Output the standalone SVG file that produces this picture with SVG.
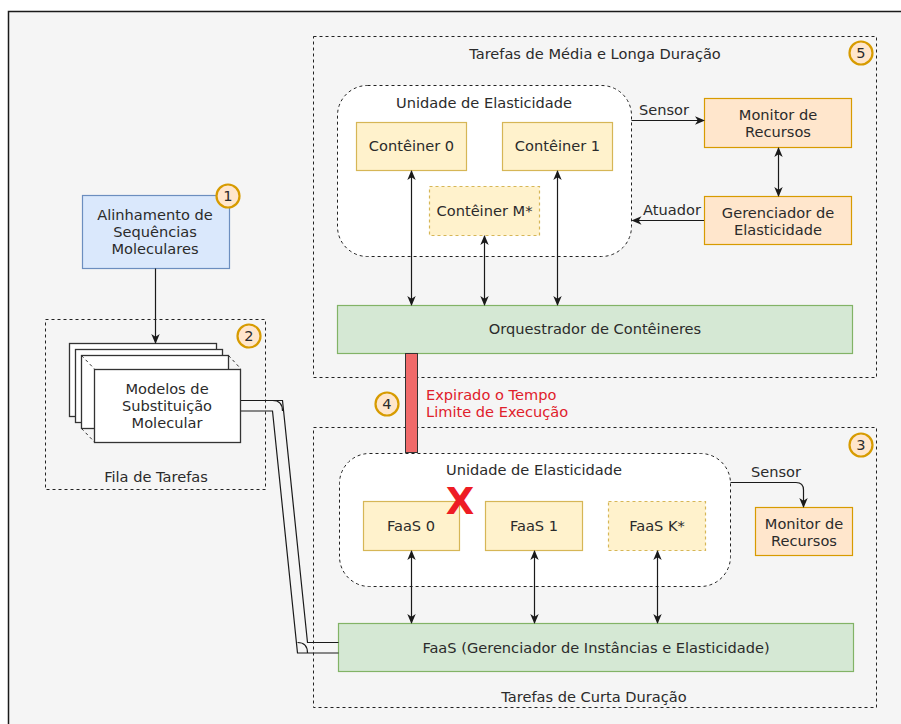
<svg xmlns="http://www.w3.org/2000/svg" width="901" height="724" viewBox="0 0 901 724">
<defs>
<marker id="ah" viewBox="0 0 10 10" refX="9" refY="5" markerWidth="10" markerHeight="10" markerUnits="userSpaceOnUse" orient="auto-start-reverse">
<path d="M0,0.8 L10,5 L0,9.2 L2.8,5 z" fill="#1a1a1a"/>
</marker>
<style>
text{font-family:"DejaVu Sans",Verdana,sans-serif;font-size:14.6px;fill:#2b2b2b;text-anchor:middle}
.grp{fill:none;stroke:#222;stroke-width:1;stroke-dasharray:3 3}
.unit{fill:#fff;stroke:#222;stroke-width:1;stroke-dasharray:3 3}
.yel{fill:#fff2cc;stroke:#d6b656;stroke-width:1.2}
.yeld{fill:#fff2cc;stroke:#d6b656;stroke-width:1.2;stroke-dasharray:3 3}
.org{fill:#ffe6cc;stroke:#d79b00;stroke-width:1.2}
.grn{fill:#d5e8d4;stroke:#82b366;stroke-width:1.2}
.blu{fill:#dae8fc;stroke:#6c8ebf;stroke-width:1.2}
.badge{fill:#ffe6cc;stroke:#d79b00;stroke-width:2.2}
.sheet{fill:#fff;stroke:#333;stroke-width:1.3}
.ln{fill:none;stroke:#1a1a1a;stroke-width:1.2}
.arr{fill:none;stroke:#1a1a1a;stroke-width:1.2;marker-end:url(#ah)}
.arr2{fill:none;stroke:#1a1a1a;stroke-width:1.2;marker-end:url(#ah);marker-start:url(#ah)}
.red{fill:#e0202b;text-anchor:start}
</style>
</defs>
<rect x="8.5" y="11.5" width="900" height="720" fill="#f5f5f5" stroke="#1a1a1a" stroke-width="1.5"/>

<g id="grupo-media-longa">
<rect class="grp" x="313.5" y="36.5" width="563" height="341"/>
<text x="595" y="59">Tarefas de Média e Longa Duração</text>
</g>
<g id="grupo-curta">
<rect class="grp" x="313.5" y="427.5" width="563" height="280"/>
<text x="594" y="702">Tarefas de Curta Duração</text>
</g>
<g id="fila-tarefas">
<rect class="grp" x="45.5" y="319.5" width="220" height="170"/>
<text x="156" y="482">Fila de Tarefas</text>
</g>

<g id="unidade-elasticidade-1">
<rect class="unit" x="337.5" y="85.5" width="294" height="171" rx="30" ry="30"/>
<text x="484" y="108">Unidade de Elasticidade</text>
</g>
<g id="unidade-elasticidade-2">
<rect class="unit" x="339.5" y="453.5" width="391" height="133" rx="30" ry="30"/>
<text x="534" y="475">Unidade de Elasticidade</text>
</g>

<g id="alinhamento">
<rect class="blu" x="82.5" y="195.5" width="147" height="73"/>
<text x="155" y="220">Alinhamento de</text>
<text x="155" y="237">Sequências</text>
<text x="155" y="254">Moleculares</text>
</g>

<g id="modelos">
<rect class="sheet" x="69.5" y="343.5" width="147" height="73"/>
<rect class="sheet" x="75.5" y="349.5" width="147" height="73"/>
<rect class="sheet" x="81.5" y="355.5" width="147" height="73"/>
<path d="M81.5,355.5 L94.5,369 M228.5,355.5 L241,369 M81.5,428.5 L94.5,442" fill="none" stroke="#333" stroke-width="1" stroke-dasharray="3 3"/>
<rect class="sheet" x="94.5" y="369.5" width="146" height="73"/>
<text x="167" y="394">Modelos de</text>
<text x="167" y="411">Substituição</text>
<text x="167" y="428">Molecular</text>
</g>

<g id="conteiner-0"><rect class="yel" x="356.5" y="122.5" width="110" height="48"/><text x="411.5" y="151">Contêiner 0</text></g>
<g id="conteiner-1"><rect class="yel" x="502.5" y="122.5" width="110" height="48"/><text x="557.5" y="151">Contêiner 1</text></g>
<g id="conteiner-m"><rect class="yeld" x="429.5" y="186.5" width="110" height="49"/><text x="484.5" y="215.5">Contêiner M*</text></g>
<g id="monitor-1"><rect class="org" x="704.5" y="98.5" width="147" height="49"/><text x="778" y="120">Monitor de</text><text x="778" y="137">Recursos</text></g>
<g id="gerenciador"><rect class="org" x="704.5" y="196.5" width="147" height="48"/><text x="778" y="218">Gerenciador de</text><text x="778" y="235">Elasticidade</text></g>
<g id="orquestrador"><rect class="grn" x="337.5" y="305.5" width="515" height="48"/><text x="595" y="334">Orquestrador de Contêineres</text></g>

<g id="faas-0"><rect class="yel" x="363.5" y="501.5" width="96" height="49"/><text x="411" y="531">FaaS 0</text></g>
<g id="faas-1"><rect class="yel" x="485.5" y="501.5" width="97" height="49"/><text x="534" y="531">FaaS 1</text></g>
<g id="faas-k"><rect class="yeld" x="608.5" y="501.5" width="97" height="49"/><text x="657" y="531">FaaS K*</text></g>
<g id="monitor-2"><rect class="org" x="755.5" y="507.5" width="97" height="48"/><text x="804" y="529">Monitor de</text><text x="804" y="546">Recursos</text></g>
<g id="faas-gerenciador"><rect class="grn" x="338.5" y="623.5" width="515" height="48"/><text x="596" y="653">FaaS (Gerenciador de Instâncias e Elasticidade)</text></g>

<g id="falha-x"><text x="460" y="514" style="font-size:37px;font-weight:bold;fill:#ee1c24">X</text></g>

<g id="conectores">
<path class="arr" d="M155.5,268.5 V343"/>
<path class="arr" d="M631.5,120.5 H704"/>
<path class="arr" d="M704,220.5 H632.5"/>
<path class="arr2" d="M778.5,148 V196"/>
<path class="arr2" d="M411.5,171 V305"/>
<path class="arr2" d="M484.5,236 V305"/>
<path class="arr2" d="M557.5,171 V305"/>
<path class="arr2" d="M411.5,551 V623"/>
<path class="arr2" d="M534.5,551 V623"/>
<path class="arr2" d="M657.5,551 V623"/>
<path class="arr" d="M730.5,482.5 H796 Q803.5,482.5 803.5,490 V507"/>
<rect x="405.5" y="353.5" width="12" height="99" fill="#f06a6a" stroke="#333" stroke-width="1"/>
<path class="ln" d="M241,400.5 H282.5 L307.5,642.5 H338.5"/>
<path class="ln" d="M241,411 H272.5 L297.5,653 H338.5"/>
<path class="ln" d="M272.5,400.5 Q282.5,400.5 282.5,411 M297.5,642.5 Q307.5,642.5 307.5,653" stroke-width="0.8"/>
</g>

<g id="rotulos">
<text x="664" y="115">Sensor</text>
<text x="672" y="215">Atuador</text>
<text x="776" y="477">Sensor</text>
<text class="red" x="426" y="400">Expirado o Tempo</text>
<text class="red" x="426" y="417">Limite de Execução</text>
</g>

<g id="badges">
<circle class="badge" cx="228" cy="196" r="11.5"/><text x="228" y="201">1</text>
<circle class="badge" cx="249" cy="336" r="11.5"/><text x="249" y="341">2</text>
<circle class="badge" cx="861" cy="445" r="11.5"/><text x="861" y="450">3</text>
<circle class="badge" cx="387" cy="404" r="11.5"/><text x="387" y="409">4</text>
<circle class="badge" cx="861" cy="53" r="11.5"/><text x="861" y="58">5</text>
</g>
</svg>
